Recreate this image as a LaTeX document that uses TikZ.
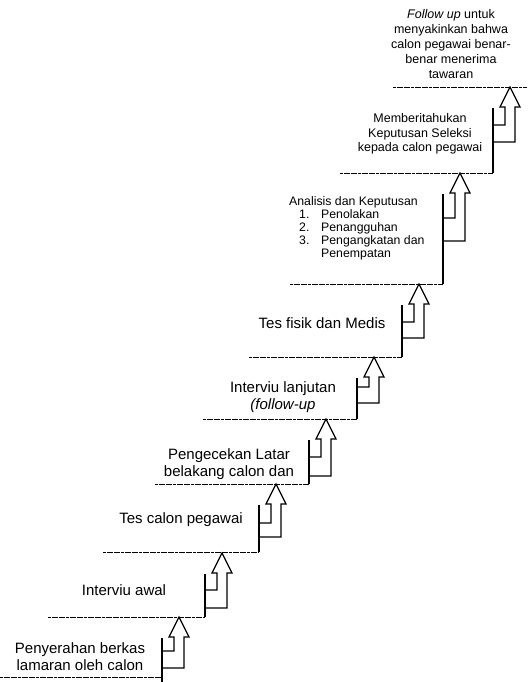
\documentclass[tikz,border=0pt]{standalone}
\usepackage{fontspec}
\setmainfont{Liberation Sans}
\newcommand\mystair[7]{%
  % #1 name, #2 riser x, #3 step y, #4 step left x, #5 tip y (next step), #6 upper bend y, #7 lower bend y
  \coordinate (L#1) at (#4,#3);
  \coordinate (R#1) at (#2,#3);
  \coordinate (T#1) at (#2,{#5+21});
  \draw[stepline] (L#1) -- (R#1);
  \draw[riser] (R#1) -- (T#1);
  \draw[barrow] (#2,#6) -- ({#2+12},#6) -- ({#2+12},{#5+20}) -- ({#2+7},{#5+20})
     -- ({#2+17},#5) -- ({#2+27},{#5+20}) -- ({#2+22},{#5+20}) -- ({#2+22},#7) -- (#2,#7);
}
\begin{document}
\begin{tikzpicture}[x=1pt,y=-1pt,
  stepline/.style={line width=0.7pt, dash pattern=on 3pt off 0.6pt, black},
  riser/.style={line width=1.3pt, black},
  barrow/.style={line width=1.2pt, black, line join=miter},
  lbl/.style={font=\fontsize{15}{17}\selectfont, align=center, inner sep=0pt},
  sml/.style={font=\fontsize{12.5}{14.5}\selectfont, align=center, inner sep=0pt}]
\useasboundingbox (0,0) rectangle (527,682);
\fill[white] (0,0) rectangle (527,682);

\mystair{1}{162}{677}{0}{617}{651}{668}
\mystair{2}{205}{617}{48}{553}{590}{608}
\mystair{3}{259}{552}{103}{484}{523}{537}
\mystair{4}{309}{484}{155}{419}{457}{476}
\mystair{5}{357}{419}{203}{357}{387}{403}
\mystair{6}{402}{357}{249}{284}{322}{338}
\mystair{7}{443}{284}{290}{173}{218}{241}
\mystair{8}{493}{173}{340}{87}{125}{142}
\draw[riser] (R1) -- (162,682);
\coordinate (L9) at (393,87);
\coordinate (R9) at (527,87);
\draw[stepline] (L9) -- (R9);

\node[lbl] (t1) at (80,657) {Penyerahan berkas\\lamaran oleh calon};
\node[lbl] (t2) at (124,590) {Interviu awal};
\node[lbl] (t3) at (181,520) {Tes calon pegawai};
\node[lbl] (t4) at (229,464) {Pengecekan Latar\\belakang calon dan};
\node[lbl] (t5) at (283,397) {Interviu lanjutan\\\textit{(follow-up}};
\node[lbl] (t6) at (322,323) {Tes fisik dan Medis};
\node[sml, align=left, anchor=north west, font=\fontsize{12.3}{13}\selectfont] (t7) at (289,196)
  {Analisis dan Keputusan\\
   \hspace*{10pt}\makebox[22pt][l]{1.}Penolakan\\
   \hspace*{10pt}\makebox[22pt][l]{2.}Penangguhan\\
   \hspace*{10pt}\makebox[22pt][l]{3.}Pengangkatan dan\\
   \hspace*{32pt}Penempatan};
\node[sml] (t8) at (420,134) {Memberitahukan\\Keputusan Seleksi\\kepada calon pegawai};
\node[sml, font=\fontsize{12.5}{15}\selectfont] (t9) at (451,44) {\textit{Follow up} untuk\\menyakinkan bahwa\\calon pegawai benar-\\benar menerima\\tawaran};
\end{tikzpicture}
\end{document}
